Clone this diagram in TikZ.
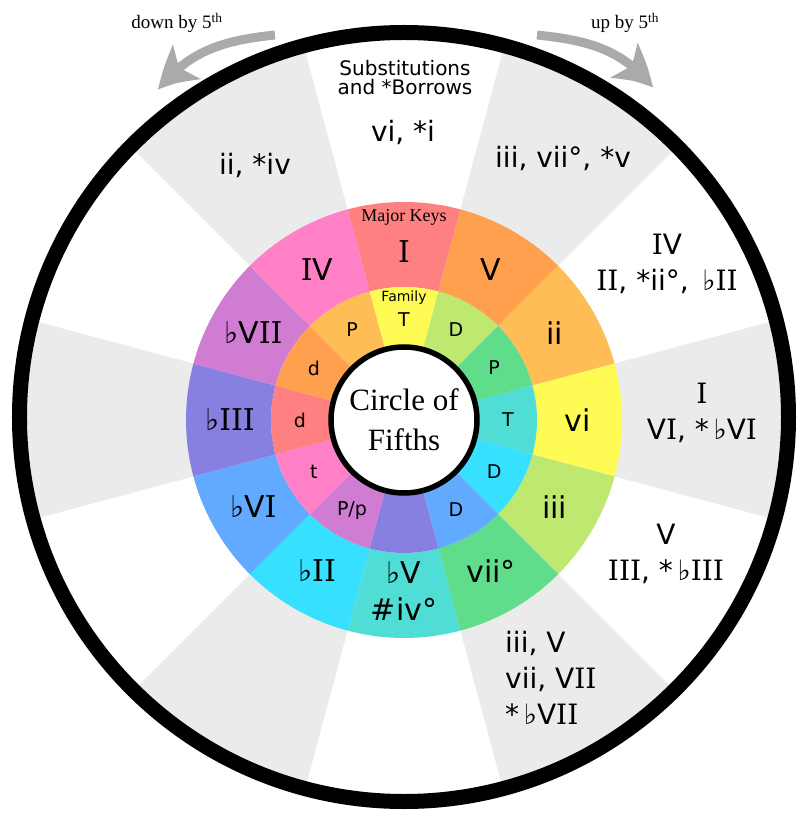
\documentclass[tikz,border=0pt]{standalone}
\usepackage{fontspec}
\setmainfont{DejaVu Sans}
\newfontfamily\serfont{Liberation Serif}
\newfontfamily\slabfont{DejaVu Serif}
\newcommand\RI{{\slabfont I}}
\usetikzlibrary{arrows.meta,bending}
\definecolor{kI}{HTML}{FF8080}
\definecolor{kV}{HTML}{FFA04F}
\definecolor{kii}{HTML}{FFBE55}
\definecolor{kvi}{HTML}{FFFB55}
\definecolor{kiii}{HTML}{BEE870}
\definecolor{kvii}{HTML}{60DD8A}
\definecolor{kbV}{HTML}{50DDD5}
\definecolor{kbII}{HTML}{38E0FF}
\definecolor{kbVI}{HTML}{62AAFF}
\definecolor{kbIII}{HTML}{8780E0}
\definecolor{kbVII}{HTML}{D07CD3}
\definecolor{kIV}{HTML}{FF80C6}
\definecolor{wedgegray}{HTML}{EBEBEB}
\definecolor{arrowgray}{HTML}{AAAAAA}
\begin{document}
\begin{tikzpicture}[x=1pt,y=1pt,
  ringlab/.style={font=\fontsize{30}{37}\selectfont,inner sep=0pt,align=center},
  famlab/.style={font=\fontsize{19}{22}\selectfont,inner sep=0pt},
  sublab/.style={font=\fontsize{28}{36}\selectfont,inner sep=0pt,align=center},
  fifarrow/.style={line width=9pt,draw=arrowgray,-{Stealth[length=42pt,width=42pt,inset=10pt,bend]}}]
\useasboundingbox (-404,-396) rectangle (406,420);
\fill[white] (-404,-396) rectangle (406,420);
% grey wedges behind the substitutions
\foreach \a in {0,60,...,300}
  \fill[wedgegray] (0,0) -- (\a-15:385) arc[start angle=\a-15,end angle=\a+15,radius=385] -- cycle;
% major keys ring
\foreach \a/\col in {90/kI,60/kV,30/kii,0/kvi,-30/kiii,-60/kvii,-90/kbV,-120/kbII,-150/kbVI,180/kbIII,150/kbVII,120/kIV}
  \fill[\col] (\a-15:133) arc[start angle=\a-15,end angle=\a+15,radius=133] -- (\a+15:218) arc[start angle=\a+15,end angle=\a-15,radius=218] -- cycle;
% family ring
\foreach \a/\col in {90/kvi,60/kiii,30/kvii,0/kbV,-30/kbII,-60/kbVI,-90/kbIII,-120/kbVII,-150/kIV,180/kI,150/kV,120/kii}
  \fill[\col] (\a-15:73) arc[start angle=\a-15,end angle=\a+15,radius=73] -- (\a+15:133) arc[start angle=\a+15,end angle=\a-15,radius=133] -- cycle;
\draw[line width=5.5pt,fill=white] (0,0) circle (73);
\draw[line width=15pt] (0,3) circle (384.5);
\node[font=\serfont\fontsize{31}{40}\selectfont,align=center,inner sep=0pt] (cof) at (0,0) {Circle of\\Fifths};
% key labels
\node[font=\serfont\fontsize{18}{20}\selectfont,inner sep=0pt] (major) at (0,203) {Major Keys};
\node[ringlab] (kI) at (90:168) {\RI};
\foreach \a/\nm/\txt in {60/V/V,30/ii/ii,0/vi/vi,-30/iii/iii,-60/vii/vii°,-120/bII/♭\RI\RI,-150/bVI/♭V\RI,180/bIII/♭\RI\RI\RI,150/bVII/♭V\RI\RI,120/IV/\RI V}
  \node[ringlab] (k\nm) at (\a:174) {\txt};
\node[ringlab] (kbV) at (-90:171) {♭V\\\#iv°};
% family labels
\node[font=\fontsize{14}{16}\selectfont,inner sep=0pt] (family) at (0,122) {Family};
\node[famlab] (f0) at (90:100) {T};
\foreach \a/\txt [count=\i] in {60/D,30/P,0/T,-30/D,-60/D,-120/{P/p},-150/t,180/d,150/d,120/P}
  \node[famlab] (f\i) at (\a:104) {\txt};
% substitutions
\node[font=\fontsize{20}{19.5}\selectfont,align=center,inner sep=0pt] (subs) at (1,342.5) {Substitutions\\and *Borrows};
\node[sublab] (sI) at (-1,288) {vi, *i};
\node[sublab] (sIV) at (-149,255) {ii, *iv};
\node[sublab] (sV) at (159,262) {iii, vii°, *v};
\node[sublab] (sii) at (263,156.5) {\RI V\\\RI\RI, *ii°, \,♭\RI\RI};
\node[sublab] (svi) at (298,7) {\RI\\V\RI, *\,♭V\RI};
\node[sublab] (siii) at (262,-133.5) {V\\\RI\RI\RI, *\,♭\RI\RI\RI};
\node[sublab,align=left,anchor=west] (svii) at (101,-257.5) {iii, V\\vii, V\RI\RI\\*\,♭V\RI\RI};
% fifths arrows
\coordinate (dnfrom) at (-129,385);
\coordinate (dnto) at (-246,330);
\coordinate (upfrom) at (133,385);
\coordinate (upto) at (249,332);
\draw[fifarrow] (dnfrom) to[out=186,in=52] (dnto);
\draw[fifarrow] (upfrom) to[out=-6,in=128] (upto);
\node[font=\serfont\fontsize{19}{20}\selectfont,inner sep=0pt] (dntxt) at (-227,397) {down by 5\textsuperscript{th}};
\node[font=\serfont\fontsize{19}{20}\selectfont,inner sep=0pt] (uptxt) at (221,397) {up by 5\textsuperscript{th}};
\end{tikzpicture}
\end{document}
